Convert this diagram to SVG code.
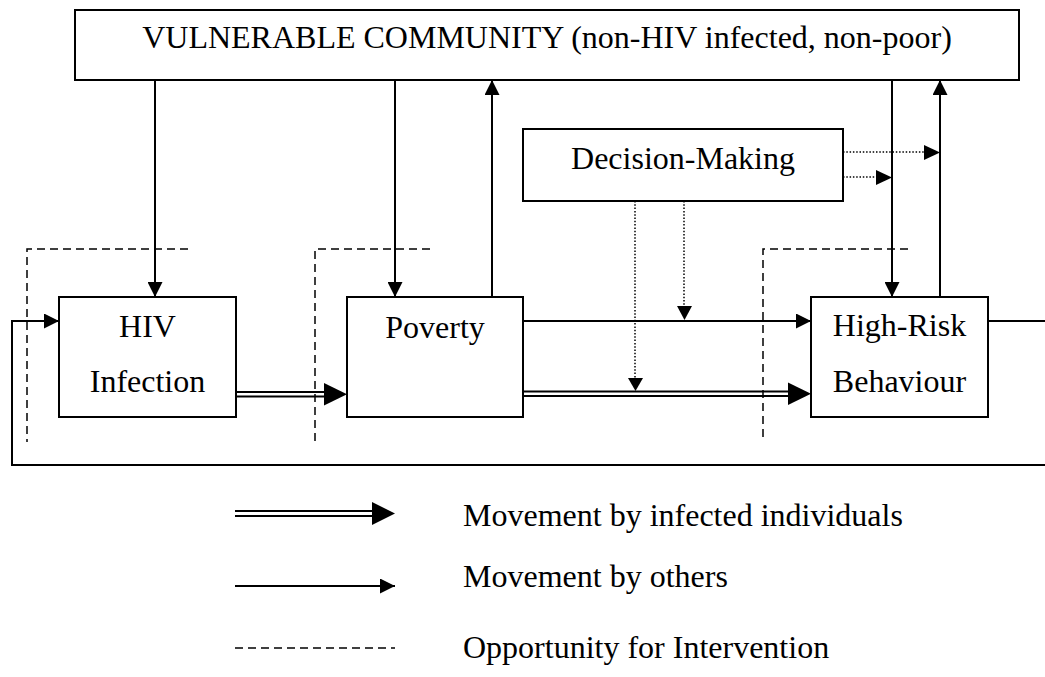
<svg xmlns="http://www.w3.org/2000/svg" width="1045" height="677" viewBox="0 0 1045 677">
  <style>
    .box { fill: #fff; stroke: #000; stroke-width: 2; }
    text { font-family: 'Liberation Serif', 'Times New Roman', Times, serif; font-size: 32px; fill: #000; }
    .mid { text-anchor: middle; }
    .line { fill: none; stroke: #000; stroke-width: 2; }
    .dbl { fill: none; stroke: #000; stroke-width: 2; }
    .dot { fill: none; stroke: #000; stroke-width: 1.5; stroke-dasharray: 1.5 1.8; }
    .dash { fill: none; stroke: #000; stroke-width: 1.5; stroke-dasharray: 8 5; }
    .head { fill: #000; stroke: none; }
  </style>
  <defs>
    <marker id="arrow" markerUnits="userSpaceOnUse" viewBox="0 0 15 15" refX="15" refY="7.5" markerWidth="15" markerHeight="15" orient="auto">
      <path d="M0,0 L15,7.5 L0,15 Z" fill="#000"/>
    </marker>
  </defs>

  <!-- connectors -->
  <g id="connectors">
    <!-- community down into each stage -->
    <path class="line" d="M155,80 V297" marker-end="url(#arrow)"/>
    <path class="line" d="M395,80 V297" marker-end="url(#arrow)"/>
    <path class="line" d="M892,80 V297" marker-end="url(#arrow)"/>
    <!-- back up to community -->
    <path class="line" d="M492,297 V80" marker-end="url(#arrow)"/>
    <path class="line" d="M940,297 V80" marker-end="url(#arrow)"/>
    <!-- poverty to high-risk behaviour (others) -->
    <path class="line" d="M523,321 H811" marker-end="url(#arrow)"/>
    <!-- feedback loop to HIV infection -->
    <path class="line" d="M988,321 H1048 V465 H12 V321 H59" marker-end="url(#arrow)"/>

    <!-- infected individuals: HIV -> Poverty -->
    <path class="dbl" d="M236,392 H326 M236,396.5 H326"/>
    <polygon class="head" points="324,383 347,394.2 324,405.5"/>
    <!-- infected individuals: Poverty -> High-Risk -->
    <path class="dbl" d="M523,391.5 H790 M523,396 H790"/>
    <polygon class="head" points="788,382.5 811,393.7 788,405"/>

    <!-- decision-making influences -->
    <path class="dot" d="M635,201 V379"/>
    <polygon class="head" points="628,378 643,378 635.5,391"/>
    <path class="dot" d="M684,201 V307"/>
    <polygon class="head" points="677,306 692,306 684.5,320"/>
    <path class="dot" d="M843,152 H925"/>
    <polygon class="head" points="924,145 940,152.5 924,160"/>
    <path class="dot" d="M843,177 H877"/>
    <polygon class="head" points="876,170 892,177.5 876,185"/>

    <!-- intervention opportunities -->
    <path class="dash" d="M188,249 H27 V442"/>
    <path class="dash" d="M430,249 H315 V442"/>
    <path class="dash" d="M908,249 H763 V442"/>
  </g>

  <g id="community">
    <rect class="box" x="75" y="10" width="944" height="70"/>
    <text class="mid" x="547" y="48">VULNERABLE COMMUNITY (non-HIV infected, non-poor)</text>
  </g>

  <g id="decision">
    <rect class="box" x="523" y="129" width="320" height="72"/>
    <text class="mid" x="683" y="169">Decision-Making</text>
  </g>

  <g id="hiv">
    <rect class="box" x="59" y="297" width="177" height="120"/>
    <text class="mid" x="147.5" y="337">HIV</text>
    <text class="mid" x="147.5" y="392">Infection</text>
  </g>

  <g id="poverty">
    <rect class="box" x="347" y="297" width="176" height="120"/>
    <text class="mid" x="435" y="338">Poverty</text>
  </g>

  <g id="highrisk">
    <rect class="box" x="811" y="297" width="177" height="120"/>
    <text class="mid" x="899.5" y="336">High-Risk</text>
    <text class="mid" x="899.5" y="392">Behaviour</text>
  </g>

  <g id="legend">
    <path class="dbl" d="M235,511 H374 M235,516 H374"/>
    <polygon class="head" points="372,502 395,513.5 372,525"/>
    <text x="463" y="526">Movement by infected individuals</text>

    <path class="line" d="M235,586 H395" marker-end="url(#arrow)"/>
    <text x="463" y="587">Movement by others</text>

    <path class="dash" d="M235,648 H395"/>
    <text x="463" y="658">Opportunity for Intervention</text>
  </g>
</svg>
